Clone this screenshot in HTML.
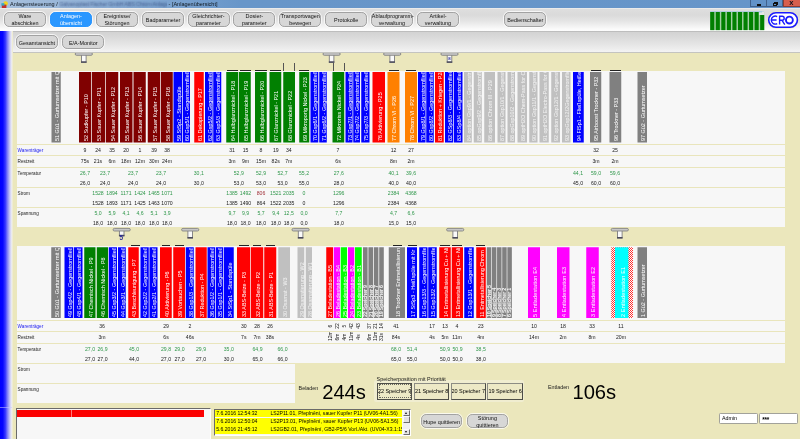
<!DOCTYPE html>
<html><head><meta charset="utf-8"><title>Anlagenuebersicht</title>
<style>
html,body{margin:0;padding:0}
body{width:800px;height:439px;overflow:hidden;position:relative;background:#ebe7bc;font-family:"Liberation Sans",sans-serif;font-size:5.2px;color:#000}
div{position:absolute;box-sizing:border-box}
.bar span{position:absolute;display:block;transform-origin:0 0;transform:rotate(-90deg);white-space:nowrap;overflow:hidden;font-size:5.45px;line-height:1.15;height:6.27px}
.hatch{background:conic-gradient(#ff3030 25%,#fff 0 50%,#ff3030 0 75%,#fff 0) 0 0/1.8px 1.8px}
.dash{height:1.2px;background:#222}
.tick{width:1px;height:7.5px;background:#555}
.tbar{width:17.2px;height:2.6px;background:#c2c2c2;border:0.8px solid #7e7e7e;border-radius:1.3px}
.tbar2{width:17.2px;height:1.3px;background:#9c9c9c;border-radius:0.6px}
.tnum{font-size:6.4px;line-height:6px;font-weight:bold;color:#2c2c98}
.tstem{width:4.7px;height:7.2px;background:#fbfbfb;border:1px solid #787878;border-bottom:1.4px solid #484858;border-top:none}
.v{width:30px;text-align:center;font-size:5.15px;line-height:7.2px;height:7.2px;color:#1a1a1a;white-space:nowrap}
.v.gr{color:#2f974a}
.v.rd{color:#a03038}
.rv{transform-origin:0 0;transform:rotate(-90deg);font-size:5px;line-height:4px;white-space:nowrap;width:8px;text-align:center;color:#1a1a1a}
.lab{left:17.6px;font-size:4.65px;line-height:6.6px;color:#1a1a1a;white-space:nowrap}
.lab.bl{color:#1818f0}
.rl{left:17px;width:768px;height:1.1px;background:#e9e5bc}
.btn{width:42px;height:14.6px;border:0.8px solid #a2a2a2;border-radius:5.2px;background:rgba(214,214,214,.985);font-size:5.45px;line-height:6.6px;text-align:center;padding-top:0;color:#111;box-shadow:0 0 0 0.9px rgba(255,255,255,.75);white-space:nowrap}
.btn.one{padding-top:3.4px}
.btn.sel{background:rgba(39,149,255,.985);border-color:#2795ff;color:#fff}
.big{font-size:20.2px;line-height:20px;color:#000;letter-spacing:-0.1px}
.sp{top:382.7px;width:35.2px;height:17.3px;border:1px solid;border-color:#8c8c84 #4e4e48 #4e4e48 #8c8c84;background:#ede9c6;font-size:5.5px;line-height:15.6px;text-align:center;white-space:nowrap;overflow:hidden;letter-spacing:-0.05px}
.yl{left:215.4px;width:187px;height:7.6px;background:#ffff00;font-size:5.12px;line-height:7.6px;white-space:nowrap;overflow:hidden}
.yl b{font-weight:normal;position:absolute;left:0.8px;top:0}
.yl i{font-style:normal;position:absolute;left:55px;top:0}
</style></head><body><div id="all" style="left:0;top:0;width:800px;height:439px;opacity:0.999;will-change:opacity">
<!-- panels -->
<div style="left:17px;top:71px;width:768px;height:155.6px;background:#f7f7f7"></div>
<div style="left:17px;top:246px;width:768px;height:117.4px;background:#f7f7f7"></div>
<div style="left:17px;top:363px;width:278px;height:40px;background:#f7f7f7"></div>
<svg style="position:absolute;left:0;top:0" width="800" height="439" viewBox="0 0 800 439"><rect x="51.50" y="72.00" width="9.25" height="70.50" fill="#808080"/><rect x="79.00" y="72.00" width="12.00" height="70.50" fill="#800000"/><rect x="91.75" y="72.00" width="13.25" height="70.50" fill="#800000"/><rect x="105.75" y="72.00" width="12.50" height="70.50" fill="#800000"/><rect x="120.00" y="72.00" width="12.50" height="70.50" fill="#800000"/><rect x="133.50" y="72.00" width="12.25" height="70.50" fill="#800000"/><rect x="147.75" y="72.00" width="12.25" height="70.50" fill="#800000"/><rect x="160.75" y="72.00" width="12.00" height="70.50" fill="#800000"/><rect x="173.50" y="72.00" width="8.75" height="70.50" fill="#0000ff"/><rect x="183.00" y="72.00" width="7.00" height="70.50" fill="#0000ff"/><rect x="194.25" y="72.00" width="9.50" height="70.50" fill="#ff0000"/><rect x="205.00" y="72.00" width="7.50" height="70.50" fill="#0000ff"/><rect x="213.25" y="72.00" width="8.00" height="70.50" fill="#0000ff"/><rect x="226.25" y="72.00" width="11.75" height="70.50" fill="#008000"/><rect x="238.75" y="72.00" width="12.00" height="70.50" fill="#008000"/><rect x="255.00" y="72.00" width="11.75" height="70.50" fill="#008000"/><rect x="269.50" y="72.00" width="11.75" height="70.50" fill="#008000"/><rect x="283.25" y="72.00" width="11.75" height="70.50" fill="#008000"/><rect x="299.25" y="72.00" width="10.00" height="70.50" fill="#008000"/><rect x="310.50" y="72.00" width="7.75" height="70.50" fill="#0000ff"/><rect x="319.25" y="72.00" width="7.50" height="70.50" fill="#0000ff"/><rect x="332.50" y="72.00" width="11.75" height="70.50" fill="#008000"/><rect x="345.50" y="72.00" width="7.00" height="70.50" fill="#0000ff"/><rect x="353.25" y="72.00" width="6.75" height="70.50" fill="#0000ff"/><rect x="361.25" y="72.00" width="8.25" height="70.50" fill="#0000ff"/><rect x="372.50" y="72.00" width="12.50" height="70.50" fill="#ff0000"/><rect x="387.50" y="72.00" width="12.00" height="70.50" fill="#ff8000"/><rect x="405.00" y="72.00" width="12.00" height="70.50" fill="#ff8000"/><rect x="418.00" y="72.00" width="7.50" height="70.50" fill="#0000ff"/><rect x="426.25" y="72.00" width="7.50" height="70.50" fill="#0000ff"/><rect x="435.00" y="72.00" width="8.75" height="70.50" fill="#ff0000"/><rect x="445.00" y="72.00" width="8.00" height="70.50" fill="#0000ff"/><rect x="453.75" y="72.00" width="8.75" height="70.50" fill="#0000ff"/><rect x="464.00" y="72.00" width="7.75" height="70.50" fill="#c0c0c0"/><rect x="473.75" y="72.00" width="8.00" height="70.50" fill="#c0c0c0"/><rect x="484.25" y="72.00" width="10.75" height="70.50" fill="#c0c0c0"/><rect x="497.50" y="72.00" width="8.00" height="70.50" fill="#c0c0c0"/><rect x="507.50" y="72.00" width="7.50" height="70.50" fill="#c0c0c0"/><rect x="517.50" y="72.00" width="9.50" height="70.50" fill="#c0c0c0"/><rect x="529.25" y="72.00" width="8.25" height="70.50" fill="#c0c0c0"/><rect x="539.50" y="72.00" width="9.25" height="70.50" fill="#c0c0c0"/><rect x="551.25" y="72.00" width="8.75" height="70.50" fill="#c0c0c0"/><rect x="562.00" y="72.00" width="8.50" height="70.50" fill="#c0c0c0"/><rect x="573.00" y="72.00" width="10.75" height="70.50" fill="#0000ff"/><rect x="590.00" y="72.00" width="11.25" height="70.50" fill="#808080"/><rect x="609.50" y="72.00" width="11.75" height="70.50" fill="#808080"/><rect x="637.50" y="72.00" width="9.50" height="70.50" fill="#808080"/><rect x="51.25" y="247.25" width="9.50" height="70.75" fill="#808080"/><rect x="64.50" y="247.25" width="8.50" height="70.75" fill="#0000ff"/><rect x="73.75" y="247.25" width="8.75" height="70.75" fill="#0000ff"/><rect x="84.25" y="247.25" width="11.25" height="70.75" fill="#008000"/><rect x="96.75" y="247.25" width="11.25" height="70.75" fill="#008000"/><rect x="108.75" y="247.25" width="8.25" height="70.75" fill="#0000ff"/><rect x="118.00" y="247.25" width="7.75" height="70.75" fill="#0000ff"/><rect x="128.25" y="247.25" width="10.50" height="70.75" fill="#ff0000"/><rect x="140.50" y="247.25" width="8.25" height="70.75" fill="#0000ff"/><rect x="149.50" y="247.25" width="8.00" height="70.75" fill="#0000ff"/><rect x="160.00" y="247.25" width="11.75" height="70.75" fill="#ff0000"/><rect x="173.25" y="247.25" width="11.75" height="70.75" fill="#ff0000"/><rect x="185.75" y="247.25" width="8.00" height="70.75" fill="#0000ff"/><rect x="195.50" y="247.25" width="11.25" height="70.75" fill="#ff0000"/><rect x="207.50" y="247.25" width="7.50" height="70.75" fill="#0000ff"/><rect x="215.75" y="247.25" width="7.25" height="70.75" fill="#0000ff"/><rect x="223.75" y="247.25" width="10.00" height="70.75" fill="#0000ff"/><rect x="237.00" y="247.25" width="13.00" height="70.75" fill="#ff0000"/><rect x="250.75" y="247.25" width="12.50" height="70.75" fill="#ff0000"/><rect x="264.25" y="247.25" width="12.00" height="70.75" fill="#ff0000"/><rect x="278.25" y="247.25" width="11.75" height="70.75" fill="#c0c0c0"/><rect x="297.50" y="247.25" width="6.75" height="70.75" fill="#c0c0c0"/><rect x="305.75" y="247.25" width="6.25" height="70.75" fill="#c0c0c0"/><rect x="326.25" y="247.25" width="6.75" height="70.75" fill="#ff0000"/><rect x="333.75" y="247.25" width="6.25" height="70.75" fill="#ff00ff"/><rect x="340.75" y="247.25" width="6.25" height="70.75" fill="#00ff00"/><rect x="348.00" y="247.25" width="6.25" height="70.75" fill="#ff00ff"/><rect x="355.00" y="247.25" width="6.75" height="70.75" fill="#00ff00"/><rect x="388.75" y="247.25" width="16.25" height="70.75" fill="#808080"/><rect x="407.00" y="247.25" width="10.00" height="70.75" fill="#0000ff"/><rect x="419.25" y="247.25" width="8.25" height="70.75" fill="#0000ff"/><rect x="428.25" y="247.25" width="8.50" height="70.75" fill="#0000ff"/><rect x="439.25" y="247.25" width="11.50" height="70.75" fill="#ff0000"/><rect x="451.75" y="247.25" width="11.25" height="70.75" fill="#ff0000"/><rect x="464.25" y="247.25" width="9.50" height="70.75" fill="#0000ff"/><rect x="476.25" y="247.25" width="9.50" height="70.75" fill="#ff0000"/><rect x="528.00" y="247.25" width="12.00" height="70.75" fill="#ff00ff"/><rect x="557.00" y="247.25" width="12.50" height="70.75" fill="#ff00ff"/><rect x="586.25" y="247.25" width="12.50" height="70.75" fill="#ff00ff"/><rect x="637.50" y="247.25" width="9.50" height="70.75" fill="#808080"/><rect x="363.00" y="247.25" width="4.6" height="70.75" fill="#808080"/><rect x="368.40" y="247.25" width="4.6" height="70.75" fill="#808080"/><rect x="373.80" y="247.25" width="4.6" height="70.75" fill="#808080"/><rect x="379.20" y="247.25" width="4.6" height="70.75" fill="#808080"/><rect x="486.75" y="247.25" width="4.5" height="70.75" fill="#808080"/><rect x="491.90" y="247.25" width="4.5" height="70.75" fill="#808080"/><rect x="497.05" y="247.25" width="4.5" height="70.75" fill="#808080"/><rect x="502.20" y="247.25" width="4.5" height="70.75" fill="#808080"/><rect x="507.35" y="247.25" width="4.5" height="70.75" fill="#808080"/><defs><pattern id="hp" width="2" height="2" patternUnits="userSpaceOnUse" x="611" y="247"><rect width="2" height="2" fill="#fff"/><rect width="1" height="1" fill="#ff3030"/><rect x="1" y="1" width="1" height="1" fill="#ff3030"/></pattern></defs><rect x="611.25" y="247.25" width="21.75" height="70.75" fill="url(#hp)"/><rect x="615.00" y="247.25" width="13.40" height="70.75" fill="#00ffff"/><rect x="81.50" y="54.3" width="4.6" height="8.00" fill="#fafafa" stroke="#7c7c80" stroke-width="0.9"/><rect x="81.05" y="61.30" width="5.5" height="1.5" fill="#4a4a5a"/><rect x="75.20" y="52.699999999999996" width="17.2" height="2.6" rx="1.3" fill="#c8c8c8" stroke="#808080" stroke-width="0.85"/><rect x="329.30" y="54.3" width="4.6" height="8.00" fill="#fafafa" stroke="#7c7c80" stroke-width="0.9"/><rect x="328.85" y="61.30" width="5.5" height="1.5" fill="#4a4a5a"/><rect x="323.00" y="52.699999999999996" width="17.2" height="2.6" rx="1.3" fill="#c8c8c8" stroke="#808080" stroke-width="0.85"/><rect x="389.90" y="54.3" width="4.6" height="8.00" fill="#fafafa" stroke="#7c7c80" stroke-width="0.9"/><rect x="389.45" y="61.30" width="5.5" height="1.5" fill="#4a4a5a"/><rect x="383.60" y="52.699999999999996" width="17.2" height="2.6" rx="1.3" fill="#c8c8c8" stroke="#808080" stroke-width="0.85"/><rect x="447.20" y="54.3" width="4.6" height="8.00" fill="#fafafa" stroke="#7c7c80" stroke-width="0.9"/><rect x="446.75" y="61.30" width="5.5" height="1.5" fill="#4a4a5a"/><rect x="440.90" y="52.699999999999996" width="17.2" height="2.6" rx="1.3" fill="#c8c8c8" stroke="#808080" stroke-width="0.85"/><rect x="119.40" y="230" width="4.6" height="5.80" fill="#fafafa" stroke="#7c7c80" stroke-width="0.9"/><rect x="118.95" y="234.80" width="5.5" height="1.5" fill="#4a4a5a"/><rect x="113.10" y="228.4" width="17.2" height="2.6" rx="1.3" fill="#c8c8c8" stroke="#808080" stroke-width="0.85"/><rect x="187.90" y="230" width="4.6" height="8.00" fill="#fafafa" stroke="#7c7c80" stroke-width="0.9"/><rect x="187.45" y="237.00" width="5.5" height="1.5" fill="#4a4a5a"/><rect x="181.60" y="228.4" width="17.2" height="2.6" rx="1.3" fill="#c8c8c8" stroke="#808080" stroke-width="0.85"/><rect x="298.30" y="230" width="4.6" height="8.00" fill="#fafafa" stroke="#7c7c80" stroke-width="0.9"/><rect x="297.85" y="237.00" width="5.5" height="1.5" fill="#4a4a5a"/><rect x="292.00" y="228.4" width="17.2" height="2.6" rx="1.3" fill="#c8c8c8" stroke="#808080" stroke-width="0.85"/><rect x="452.90" y="230" width="4.6" height="8.00" fill="#fafafa" stroke="#7c7c80" stroke-width="0.9"/><rect x="452.45" y="237.00" width="5.5" height="1.5" fill="#4a4a5a"/><rect x="446.60" y="228.4" width="17.2" height="2.6" rx="1.3" fill="#c8c8c8" stroke="#808080" stroke-width="0.85"/><rect x="617.50" y="230" width="4.6" height="8.00" fill="#fafafa" stroke="#7c7c80" stroke-width="0.9"/><rect x="617.05" y="237.00" width="5.5" height="1.5" fill="#4a4a5a"/><rect x="611.20" y="228.4" width="17.2" height="2.6" rx="1.3" fill="#c8c8c8" stroke="#808080" stroke-width="0.85"/></svg>
<!-- title bar -->
<svg style="position:absolute;left:0;top:0" width="800" height="53" viewBox="0 0 800 53"><defs><linearGradient id="g0" x1="0" x2="1" y1="0" y2="0"><stop offset="0" stop-color="#a9c1dd"/><stop offset=".12" stop-color="#8fb0d6"/><stop offset=".3" stop-color="#6896c9"/><stop offset="1" stop-color="#6695c9"/></linearGradient><linearGradient id="g1" x1="0" x2="0" y1="0" y2="1"><stop offset="0" stop-color="#f2f2f2"/><stop offset=".06" stop-color="#dedede"/><stop offset=".3" stop-color="#dadada"/><stop offset=".55" stop-color="#e4e4e4"/><stop offset=".8" stop-color="#f3f3f3"/><stop offset=".92" stop-color="#fbfbfb"/><stop offset="1" stop-color="#fcfcfc"/></linearGradient><linearGradient id="g2" x1="0" x2="0" y1="0" y2="1"><stop offset="0" stop-color="#d1d1d1"/><stop offset=".3" stop-color="#dadada"/><stop offset=".75" stop-color="#eaeaea"/><stop offset="1" stop-color="#f4f4f4"/></linearGradient></defs><rect x="0" y="0" width="800" height="8" fill="url(#g0)"/><rect x="0" y="8" width="800" height="23" fill="url(#g1)"/><rect x="0" y="31" width="800" height="21.4" fill="url(#g2)"/></svg>
<div style="left:10px;top:0.6px;font-size:5.5px;line-height:7px;white-space:nowrap;color:#101820">Anlagensteuerung / <span style="display:inline-block;width:107.8px;overflow:hidden;vertical-align:top;color:transparent;text-shadow:0 0 1.8px rgba(60,85,135,.7),0 0 2.6px rgba(60,85,135,.35);letter-spacing:-0.2px">Galvanoplast Fischer GmbH ABS Chrom Anlage</span> - [Anlagenübersicht]</div>
<svg style="position:absolute;left:0.5px;top:0.6px" width="8" height="7.5" viewBox="0 0 8 7.5"><circle cx="4.6" cy="2.6" r="2.3" fill="#f2d21c"/><rect x="0.8" y="3.6" width="4.6" height="3.4" fill="#c03030"/><rect x="0.4" y="2.2" width="3" height="2.4" fill="#30a8c8"/></svg>
<div style="left:750.2px;top:0;width:17.2px;height:7.4px;background:#6292c8;border:0.7px solid #41618c;border-top:none"></div>
<div style="left:767.4px;top:0;width:16px;height:7.4px;background:#6292c8;border:0.7px solid #41618c;border-top:none;border-left:none"></div>
<div style="left:783.4px;top:0;width:16.6px;height:7.4px;background:#d75f4e;border:0.6px solid #8a3c34;border-top:none;border-right:none"></div>
<div style="left:756.6px;top:4.3px;width:4.6px;height:1.4px;background:#101010"></div>
<div style="left:773.2px;top:2.6px;width:3.4px;height:3.2px;border:0.9px solid #101010"></div>
<div style="left:774.3px;top:1.7px;width:3.4px;height:3.2px;border:0.9px solid #101010;border-left:none;border-bottom:none"></div>
<div style="left:789.2px;top:-1.1px;font-size:7.6px;line-height:7px;font-weight:bold;color:#14101c">x</div>
<!-- toolbar 1 -->
<div class="btn " style="left:4px;top:12.3px">Ware<br>abschicken</div><div class="btn sel" style="left:50px;top:12.3px">Anlagen-<br>übersicht</div><div class="btn " style="left:96px;top:12.3px">Ereignisse/<br>Störungen</div><div class="btn one" style="left:142px;top:12.3px">Badparameter</div><div class="btn " style="left:187.5px;top:12.3px">Gleichrichter-<br>parameter</div><div class="btn " style="left:233.3px;top:12.3px">Dosier-<br>parameter</div><div class="btn " style="left:279.3px;top:12.3px">Transportwagen<br>bewegen</div><div class="btn one" style="left:325.2px;top:12.3px">Protokolle</div><div class="btn " style="left:370.8px;top:12.3px">Ablaufprogramm-<br>verwaltung</div><div class="btn " style="left:417px;top:12.3px">Artikel-<br>verwaltung</div><div class="btn one" style="left:504.3px;top:12.3px">Bedienschalter</div>
<svg style="position:absolute;left:0;top:0" width="800" height="32" viewBox="0 0 800 32"><rect x="710.2" y="11.8" width="54" height="18.3" fill="#a4d0a4"/><rect x="710.2" y="11.4" width="53.8" height="0.9" fill="#9cc4e4"/><rect x="758.6" y="11.6" width="5.6" height="3.4" fill="#e6e6e6"/><rect x="758.6" y="11.4" width="3.4" height="1" fill="#9cc4e4"/><rect x="710.20" y="12" width="4.1" height="18.1" fill="#008000"/><rect x="715.75" y="12" width="4.1" height="18.1" fill="#008000"/><rect x="721.30" y="12" width="4.1" height="18.1" fill="#008000"/><rect x="726.85" y="12" width="4.1" height="18.1" fill="#008000"/><rect x="732.40" y="12" width="4.1" height="18.1" fill="#008000"/><rect x="737.95" y="12" width="4.1" height="18.1" fill="#008000"/><rect x="743.50" y="12" width="4.1" height="18.1" fill="#008000"/><rect x="749.05" y="12" width="4.1" height="18.1" fill="#008000"/><rect x="754.60" y="12" width="4.1" height="18.1" fill="#008000"/><rect x="760.15" y="15" width="4.1" height="15.1" fill="#008000"/></svg>
<svg style="position:absolute;left:766px;top:10px" width="34" height="20" viewBox="766 10 34 20"><rect x="768.7" y="12.7" width="28.7" height="14.5" rx="7.25" fill="#fff" stroke="#f4f0b0" stroke-width="2.6"/><rect x="768.7" y="12.7" width="28.7" height="14.5" rx="7.25" fill="#fff" stroke="#1a1aff" stroke-width="1.6"/><g fill="none" stroke="#1a1aff" stroke-width="1.4" transform="translate(-0.8 0)"><path d="M778 16.6A4 4 0 1 0 778 23.6M772.6 20H777.4"/><path d="M780.4 24.6V16.2H783A1.9 1.9 0 0 1 783 20.2H780.4M782.8 20.4L785.6 24.6"/><circle cx="790.2" cy="20.1" r="3.45" stroke-width="1.9"/></g></svg>
<!-- toolbar 2 -->
<div style="left:0;top:30.8px;width:800px;height:0.8px;background:#bdbdbd"></div>
<div style="left:0;top:51.6px;width:800px;height:1px;background:#c4c4c0"></div>
<div class="btn one" style="left:16.2px;top:35.2px;width:41.6px;height:14.2px">Gesamtansicht</div>
<div class="btn one" style="left:62.3px;top:35.2px;width:42px;height:14.2px">E/A-Monitor</div>
<!-- left blue strip -->
<div style="left:0;top:31.4px;width:12.6px;height:408px;background:linear-gradient(90deg,#0000ff 0,#0606ff 22%,#3a3aff 42%,#8c8cf8 60%,#d0d0f6 78%,#f2f2ee 92%,#ebe7bc 100%)"></div>
<div style="left:0;top:406.8px;width:12px;height:0.9px;background:rgba(200,200,255,.55)"></div>
<div class="bar" style="left:51.50px;top:72.00px;width:9.25px;height:70.50px;"><span style="left:2.49px;top:69.00px;width:69.00px;color:#fff">51 Gü1 - Gurtumsetzer mit Q</span></div>
<div class="bar" style="left:79.00px;top:72.00px;width:12.00px;height:70.50px;"><span style="left:3.87px;top:69.00px;width:69.00px;color:#fff">52 Sudkupfer - P10</span></div>
<div class="bar" style="left:91.75px;top:72.00px;width:13.25px;height:70.50px;"><span style="left:4.49px;top:69.00px;width:69.00px;color:#fff">53 Sauer Kupfer - P11</span></div>
<div class="bar" style="left:105.75px;top:72.00px;width:12.50px;height:70.50px;"><span style="left:4.12px;top:69.00px;width:69.00px;color:#fff">54 Sauer Kupfer - P12</span></div>
<div class="bar" style="left:120.00px;top:72.00px;width:12.50px;height:70.50px;"><span style="left:4.12px;top:69.00px;width:69.00px;color:#fff">55 Sauer Kupfer - P13</span></div>
<div class="bar" style="left:133.50px;top:72.00px;width:12.25px;height:70.50px;"><span style="left:3.99px;top:69.00px;width:69.00px;color:#fff">56 Sauer Kupfer - P14</span></div>
<div class="bar" style="left:147.75px;top:72.00px;width:12.25px;height:70.50px;"><span style="left:3.99px;top:69.00px;width:69.00px;color:#fff">57 Sauer Kupfer - P15</span></div>
<div class="bar" style="left:160.75px;top:72.00px;width:12.00px;height:70.50px;"><span style="left:3.87px;top:69.00px;width:69.00px;color:#fff">58 Sauer Kupfer - P16</span></div>
<div class="bar" style="left:173.50px;top:72.00px;width:8.75px;height:70.50px;"><span style="left:2.24px;top:69.00px;width:69.00px;color:#fff">59 StSp2 - Standspüle</span></div>
<div class="bar" style="left:183.00px;top:72.00px;width:7.00px;height:70.50px;"><span style="left:1.37px;top:69.00px;width:69.00px;color:#fff">60 Gsp5/1 - Gegenstromfließspüle</span></div>
<div class="bar" style="left:194.25px;top:72.00px;width:9.50px;height:70.50px;"><span style="left:2.62px;top:69.00px;width:69.00px;color:#fff">61 Dekapierung - P17</span></div>
<div class="bar" style="left:205.00px;top:72.00px;width:7.50px;height:70.50px;"><span style="left:1.62px;top:69.00px;width:69.00px;color:#fff">62 Gsp5/2 - Gegenstromfließspüle</span></div>
<div class="bar" style="left:213.25px;top:72.00px;width:8.00px;height:70.50px;"><span style="left:1.87px;top:69.00px;width:69.00px;color:#fff">63 Gsp5/3 - Gegenstromfließspüle</span></div>
<div class="bar" style="left:226.25px;top:72.00px;width:11.75px;height:70.50px;"><span style="left:3.74px;top:69.00px;width:69.00px;color:#fff">64 Halbglanznickel - P18</span></div>
<div class="bar" style="left:238.75px;top:72.00px;width:12.00px;height:70.50px;"><span style="left:3.87px;top:69.00px;width:69.00px;color:#fff">65 Halbglanznickel - P19</span></div>
<div class="bar" style="left:255.00px;top:72.00px;width:11.75px;height:70.50px;"><span style="left:3.74px;top:69.00px;width:69.00px;color:#fff">66 Halbglanznickel - P20</span></div>
<div class="bar" style="left:269.50px;top:72.00px;width:11.75px;height:70.50px;"><span style="left:3.74px;top:69.00px;width:69.00px;color:#fff">67 Glanznickel - P21</span></div>
<div class="bar" style="left:283.25px;top:72.00px;width:11.75px;height:70.50px;"><span style="left:3.74px;top:69.00px;width:69.00px;color:#fff">68 Glanznickel - P22</span></div>
<div class="bar" style="left:299.25px;top:72.00px;width:10.00px;height:70.50px;"><span style="left:2.87px;top:69.00px;width:69.00px;color:#fff">69 Mikroporig Nickel - P23</span></div>
<div class="bar" style="left:310.50px;top:72.00px;width:7.75px;height:70.50px;"><span style="left:1.74px;top:69.00px;width:69.00px;color:#fff">70 Gsp6/1 - Gegenstromfließspüle</span></div>
<div class="bar" style="left:319.25px;top:72.00px;width:7.50px;height:70.50px;"><span style="left:1.62px;top:69.00px;width:69.00px;color:#fff">71 Gsp6/2 - Gegenstromfließspüle</span></div>
<div class="bar" style="left:332.50px;top:72.00px;width:11.75px;height:70.50px;"><span style="left:3.74px;top:69.00px;width:69.00px;color:#fff">72 Mikroriss Nickel - P24</span></div>
<div class="bar" style="left:345.50px;top:72.00px;width:7.00px;height:70.50px;"><span style="left:1.37px;top:69.00px;width:69.00px;color:#fff">73 Gsp7/1 - Gegenstromfließspüle</span></div>
<div class="bar" style="left:353.25px;top:72.00px;width:6.75px;height:70.50px;"><span style="left:1.24px;top:69.00px;width:69.00px;color:#fff">74 Gsp7/2 - Gegenstromfließspüle</span></div>
<div class="bar" style="left:361.25px;top:72.00px;width:8.25px;height:70.50px;"><span style="left:1.99px;top:69.00px;width:69.00px;color:#fff">75 Gsp7/3 - Gegenstromfließspüle</span></div>
<div class="bar" style="left:372.50px;top:72.00px;width:12.50px;height:70.50px;"><span style="left:4.12px;top:69.00px;width:69.00px;color:#fff">76 Aktivierung - P25</span></div>
<div class="bar" style="left:387.50px;top:72.00px;width:12.00px;height:70.50px;"><span style="left:3.87px;top:69.00px;width:69.00px;color:#fff">77 Chrom VI - P26</span></div>
<div class="bar" style="left:405.00px;top:72.00px;width:12.00px;height:70.50px;"><span style="left:3.87px;top:69.00px;width:69.00px;color:#fff">78 Chrom VI - P27</span></div>
<div class="bar" style="left:418.00px;top:72.00px;width:7.50px;height:70.50px;"><span style="left:1.62px;top:69.00px;width:69.00px;color:#fff">79 Gsp8/1 - Gegenstromfließspüle</span></div>
<div class="bar" style="left:426.25px;top:72.00px;width:7.50px;height:70.50px;"><span style="left:1.62px;top:69.00px;width:69.00px;color:#fff">80 Gsp8/2 - Gegenstromfließspüle</span></div>
<div class="bar" style="left:435.00px;top:72.00px;width:8.75px;height:70.50px;"><span style="left:2.24px;top:69.00px;width:69.00px;color:#fff">81 Reduktion + Kriegen - P28</span></div>
<div class="bar" style="left:445.00px;top:72.00px;width:8.00px;height:70.50px;"><span style="left:1.87px;top:69.00px;width:69.00px;color:#fff">82 GSp8/3 - Gegenstromfließspüle</span></div>
<div class="bar" style="left:453.75px;top:72.00px;width:8.75px;height:70.50px;"><span style="left:2.24px;top:69.00px;width:69.00px;color:#fff">83 GSp8/4 - Gegenstromfließspüle</span></div>
<div class="bar" style="left:464.00px;top:72.00px;width:7.75px;height:70.50px;"><span style="left:1.74px;top:69.00px;width:69.00px;color:#f4f4f4">84 option Gsp9/1 - Gegenstr</span></div>
<div class="bar" style="left:473.75px;top:72.00px;width:8.00px;height:70.50px;"><span style="left:1.87px;top:69.00px;width:69.00px;color:#f4f4f4">85 opGsp9/2 - Gegenstromflie</span></div>
<div class="bar" style="left:484.25px;top:72.00px;width:10.75px;height:70.50px;"><span style="left:3.24px;top:69.00px;width:69.00px;color:#f4f4f4">86 option Chrom III - P29</span></div>
<div class="bar" style="left:497.50px;top:72.00px;width:8.00px;height:70.50px;"><span style="left:1.87px;top:69.00px;width:69.00px;color:#f4f4f4">87 option Gsp10/1 - Gegenstr</span></div>
<div class="bar" style="left:507.50px;top:72.00px;width:7.50px;height:70.50px;"><span style="left:1.62px;top:69.00px;width:69.00px;color:#f4f4f4">88 opGsp10/2 - Gegenstrom</span></div>
<div class="bar" style="left:517.50px;top:72.00px;width:9.50px;height:70.50px;"><span style="left:2.62px;top:69.00px;width:69.00px;color:#f4f4f4">89 optH2O Chem-Pass for C</span></div>
<div class="bar" style="left:529.25px;top:72.00px;width:8.25px;height:70.50px;"><span style="left:1.99px;top:69.00px;width:69.00px;color:#f4f4f4">90 option Gsp11/1 - Gegenstr</span></div>
<div class="bar" style="left:539.50px;top:72.00px;width:9.25px;height:70.50px;"><span style="left:2.49px;top:69.00px;width:69.00px;color:#f4f4f4">91 optH2O Electro-Pass for C</span></div>
<div class="bar" style="left:551.25px;top:72.00px;width:8.75px;height:70.50px;"><span style="left:2.24px;top:69.00px;width:69.00px;color:#f4f4f4">92 option Gsp12/1 - Gegenstr</span></div>
<div class="bar" style="left:562.00px;top:72.00px;width:8.50px;height:70.50px;"><span style="left:2.12px;top:69.00px;width:69.00px;color:#f4f4f4">93 opGsp12/2Gegenstromflie</span></div>
<div class="bar" style="left:573.00px;top:72.00px;width:10.75px;height:70.50px;"><span style="left:3.24px;top:69.00px;width:69.00px;color:#fff">94 FlSp1 - Fließspüle, Heiße</span></div>
<div class="bar" style="left:590.00px;top:72.00px;width:11.25px;height:70.50px;"><span style="left:3.49px;top:69.00px;width:69.00px;color:#fff">95 Airboost Trockner - P32</span></div>
<div class="bar" style="left:609.50px;top:72.00px;width:11.75px;height:70.50px;"><span style="left:3.74px;top:69.00px;width:69.00px;color:#fff">96 Trockner - P33</span></div>
<div class="bar" style="left:637.50px;top:72.00px;width:9.50px;height:70.50px;"><span style="left:2.62px;top:69.00px;width:69.00px;color:#fff">97 Gü2 - Gurtumsetzer</span></div>
<div class="bar" style="left:51.25px;top:247.25px;width:9.50px;height:70.75px;"><span style="left:2.62px;top:69.25px;width:69.25px;color:#fff">50 Gü1 - Gurtumsetzer mit Q</span></div>
<div class="bar" style="left:64.50px;top:247.25px;width:8.50px;height:70.75px;"><span style="left:2.12px;top:69.25px;width:69.25px;color:#fff">49 Gsp4/2 - Gegenstromfließspüle</span></div>
<div class="bar" style="left:73.75px;top:247.25px;width:8.75px;height:70.75px;"><span style="left:2.24px;top:69.25px;width:69.25px;color:#fff">48 Gsp4/1 - Gegenstromfließspüle</span></div>
<div class="bar" style="left:84.25px;top:247.25px;width:11.25px;height:70.75px;"><span style="left:3.49px;top:69.25px;width:69.25px;color:#fff">47 Chemisch Nickel - P9</span></div>
<div class="bar" style="left:96.75px;top:247.25px;width:11.25px;height:70.75px;"><span style="left:3.49px;top:69.25px;width:69.25px;color:#fff">46 Chemisch Nickel - P8</span></div>
<div class="bar" style="left:108.75px;top:247.25px;width:8.25px;height:70.75px;"><span style="left:1.99px;top:69.25px;width:69.25px;color:#fff">45 Gsp3/2 - Gegenstromfließspüle</span></div>
<div class="bar" style="left:118.00px;top:247.25px;width:7.75px;height:70.75px;"><span style="left:1.74px;top:69.25px;width:69.25px;color:#fff">44 Gsp3/1 - Gegenstromfließspüle</span></div>
<div class="bar" style="left:128.25px;top:247.25px;width:10.50px;height:70.75px;"><span style="left:3.12px;top:69.25px;width:69.25px;color:#fff">43 Beschleunigung - P7</span></div>
<div class="bar" style="left:140.50px;top:247.25px;width:8.25px;height:70.75px;"><span style="left:1.99px;top:69.25px;width:69.25px;color:#fff">42 Gsp2/2 - Gegenstromfließspüle</span></div>
<div class="bar" style="left:149.50px;top:247.25px;width:8.00px;height:70.75px;"><span style="left:1.87px;top:69.25px;width:69.25px;color:#fff">41 Gsp2/1 - Gegenstromfließspüle</span></div>
<div class="bar" style="left:160.00px;top:247.25px;width:11.75px;height:70.75px;"><span style="left:3.74px;top:69.25px;width:69.25px;color:#fff">40 Aktivierung - P6</span></div>
<div class="bar" style="left:173.25px;top:247.25px;width:11.75px;height:70.75px;"><span style="left:3.74px;top:69.25px;width:69.25px;color:#fff">39 Vortauchen - P5</span></div>
<div class="bar" style="left:185.75px;top:247.25px;width:8.00px;height:70.75px;"><span style="left:1.87px;top:69.25px;width:69.25px;color:#fff">38 Gsp1/3 - Gegenstromfließspüle</span></div>
<div class="bar" style="left:195.50px;top:247.25px;width:11.25px;height:70.75px;"><span style="left:3.49px;top:69.25px;width:69.25px;color:#fff">37 Reduktion - P4</span></div>
<div class="bar" style="left:207.50px;top:247.25px;width:7.50px;height:70.75px;"><span style="left:1.62px;top:69.25px;width:69.25px;color:#fff">36 Gsp1/2 - Gegenstromfließspüle</span></div>
<div class="bar" style="left:215.75px;top:247.25px;width:7.25px;height:70.75px;"><span style="left:1.49px;top:69.25px;width:69.25px;color:#fff">35 Gsp1/1 - Gegenstromfließspüle</span></div>
<div class="bar" style="left:223.75px;top:247.25px;width:10.00px;height:70.75px;"><span style="left:2.87px;top:69.25px;width:69.25px;color:#fff">34 StSp1 - Standspüle</span></div>
<div class="bar" style="left:237.00px;top:247.25px;width:13.00px;height:70.75px;"><span style="left:4.37px;top:69.25px;width:69.25px;color:#fff">33 ABS-Beize - P3</span></div>
<div class="bar" style="left:250.75px;top:247.25px;width:12.50px;height:70.75px;"><span style="left:4.12px;top:69.25px;width:69.25px;color:#fff">32 ABS-Beize - P2</span></div>
<div class="bar" style="left:264.25px;top:247.25px;width:12.00px;height:70.75px;"><span style="left:3.87px;top:69.25px;width:69.25px;color:#fff">31 ABS-Beize - P1</span></div>
<div class="bar" style="left:278.25px;top:247.25px;width:11.75px;height:70.75px;"><span style="left:3.74px;top:69.25px;width:69.25px;color:#f4f4f4">30 Oxamat - W3</span></div>
<div class="bar" style="left:297.50px;top:247.25px;width:6.75px;height:70.75px;"><span style="left:1.24px;top:69.25px;width:69.25px;color:#f4f4f4">29 Oxamatierung - W2</span></div>
<div class="bar" style="left:305.75px;top:247.25px;width:6.25px;height:70.75px;"><span style="left:0.99px;top:69.25px;width:69.25px;color:#f4f4f4">28 Oxamatierung - W1</span></div>
<div class="bar" style="left:326.25px;top:247.25px;width:6.75px;height:70.75px;"><span style="left:1.24px;top:69.25px;width:69.25px;color:#fff">27 Beladestation - B5</span></div>
<div class="bar" style="left:333.75px;top:247.25px;width:6.25px;height:70.75px;"><span style="left:0.99px;top:69.25px;width:69.25px;color:#fff">26 Beladestation - B4</span></div>
<div class="bar" style="left:340.75px;top:247.25px;width:6.25px;height:70.75px;"><span style="left:0.99px;top:69.25px;width:69.25px;color:#fff">25 Beladestation - B3</span></div>
<div class="bar" style="left:348.00px;top:247.25px;width:6.25px;height:70.75px;"><span style="left:0.99px;top:69.25px;width:69.25px;color:#fff">24 Beladestation - B2</span></div>
<div class="bar" style="left:355.00px;top:247.25px;width:6.75px;height:70.75px;"><span style="left:1.24px;top:69.25px;width:69.25px;color:#fff">23 Beladestation - B1</span></div>
<div class="bar" style="left:388.75px;top:247.25px;width:16.25px;height:70.75px;"><span style="left:5.99px;top:69.25px;width:69.25px;color:#fff">18 Trockner Entmetallisierun</span></div>
<div class="bar" style="left:407.00px;top:247.25px;width:10.00px;height:70.75px;"><span style="left:2.87px;top:69.25px;width:69.25px;color:#fff">17 StSp3 - Heißspüle mit Kr</span></div>
<div class="bar" style="left:419.25px;top:247.25px;width:8.25px;height:70.75px;"><span style="left:1.99px;top:69.25px;width:69.25px;color:#fff">16 Gsp13/3 - Gegenstromfließspüle</span></div>
<div class="bar" style="left:428.25px;top:247.25px;width:8.50px;height:70.75px;"><span style="left:2.12px;top:69.25px;width:69.25px;color:#fff">15 Gsp13/2 - Gegenstromfließspüle</span></div>
<div class="bar" style="left:439.25px;top:247.25px;width:11.50px;height:70.75px;"><span style="left:3.62px;top:69.25px;width:69.25px;color:#fff">14 Entmetallisierung Cu + Ni</span></div>
<div class="bar" style="left:451.75px;top:247.25px;width:11.25px;height:70.75px;"><span style="left:3.49px;top:69.25px;width:69.25px;color:#fff">13 Entmetallisierung Cu + Ni</span></div>
<div class="bar" style="left:464.25px;top:247.25px;width:9.50px;height:70.75px;"><span style="left:2.62px;top:69.25px;width:69.25px;color:#fff">12 Gsp13/1 - Gegenstromfließspüle</span></div>
<div class="bar" style="left:476.25px;top:247.25px;width:9.50px;height:70.75px;"><span style="left:2.62px;top:69.25px;width:69.25px;color:#fff">11 Entmetallisierung Chrom</span></div>
<div class="bar" style="left:528.00px;top:247.25px;width:12.00px;height:70.75px;letter-spacing:0.16px"><span style="left:3.87px;top:69.25px;width:69.25px;color:#fff">5 Entladestation E4</span></div>
<div class="bar" style="left:557.00px;top:247.25px;width:12.50px;height:70.75px;letter-spacing:0.16px"><span style="left:4.12px;top:69.25px;width:69.25px;color:#fff">4 Entladestation E3</span></div>
<div class="bar" style="left:586.25px;top:247.25px;width:12.50px;height:70.75px;letter-spacing:0.16px"><span style="left:4.12px;top:69.25px;width:69.25px;color:#fff">3 Entladestation E2</span></div>
<div class="bar" style="left:637.50px;top:247.25px;width:9.50px;height:70.75px;"><span style="left:2.62px;top:69.25px;width:69.25px;color:#fff">1 Gü2 - Gurtumsetzer</span></div>
<div class="bar" style="left:363.00px;top:247.25px;width:4.6px;height:70.75px"><span style="left:-0.83px;top:69.25px;width:40px;color:#f4f4f4;font-weight:bold;letter-spacing:-0.25px">22 Speicher 9</span></div>
<div class="bar" style="left:368.40px;top:247.25px;width:4.6px;height:70.75px"><span style="left:-0.83px;top:69.25px;width:40px;color:#f4f4f4;font-weight:bold;letter-spacing:-0.25px">21 Speicher 8</span></div>
<div class="bar" style="left:373.80px;top:247.25px;width:4.6px;height:70.75px"><span style="left:-0.83px;top:69.25px;width:40px;color:#f4f4f4;font-weight:bold;letter-spacing:-0.25px">20 Speicher 7</span></div>
<div class="bar" style="left:379.20px;top:247.25px;width:4.6px;height:70.75px"><span style="left:-0.83px;top:69.25px;width:40px;color:#f4f4f4;font-weight:bold;letter-spacing:-0.25px">19 Speicher 6</span></div>
<div class="bar" style="left:486.75px;top:247.25px;width:4.5px;height:70.75px"><span style="left:-0.88px;top:69.25px;width:40px;color:#f4f4f4;font-weight:bold;letter-spacing:-0.25px">10 Speicher 5</span></div>
<div class="bar" style="left:491.90px;top:247.25px;width:4.5px;height:70.75px"><span style="left:-0.88px;top:69.25px;width:40px;color:#f4f4f4;font-weight:bold;letter-spacing:-0.25px">9 Speicher 4</span></div>
<div class="bar" style="left:497.05px;top:247.25px;width:4.5px;height:70.75px"><span style="left:-0.88px;top:69.25px;width:40px;color:#f4f4f4;font-weight:bold;letter-spacing:-0.25px">8 Speicher 3</span></div>
<div class="bar" style="left:502.20px;top:247.25px;width:4.5px;height:70.75px"><span style="left:-0.88px;top:69.25px;width:40px;color:#f4f4f4;font-weight:bold;letter-spacing:-0.25px">7 Speicher 2</span></div>
<div class="bar" style="left:507.35px;top:247.25px;width:4.5px;height:70.75px"><span style="left:-0.88px;top:69.25px;width:40px;color:#f4f4f4;font-weight:bold;letter-spacing:-0.25px">6 Speicher 1</span></div>
<div class="bar" style="left:615.00px;top:247.25px;width:13.40px;height:70.75px;letter-spacing:0.16px"><span style="left:4.57px;top:69.25px;width:69.25px;color:#fff">2 Entladestation E1</span></div>
<div class="dash" style="left:226.50px;top:70.2px;width:11.50px"></div>
<div class="dash" style="left:240.00px;top:70.2px;width:10.75px"></div>
<div class="dash" style="left:255.00px;top:70.2px;width:11.75px"></div>
<div class="dash" style="left:269.50px;top:70.2px;width:11.75px"></div>
<div class="dash" style="left:299.25px;top:70.2px;width:10.00px"></div>
<div class="dash" style="left:388.75px;top:70.2px;width:10.00px"></div>
<div class="dash" style="left:406.25px;top:70.2px;width:9.25px"></div>
<div class="dash" style="left:590.50px;top:70.2px;width:10.50px"></div>
<div class="dash" style="left:610.00px;top:70.2px;width:10.50px"></div>
<div class="dash" style="left:130.50px;top:244.6px;width:9.25px"></div>
<div class="dash" style="left:161.80px;top:244.6px;width:8.70px"></div>
<div class="dash" style="left:175.00px;top:244.6px;width:9.00px"></div>
<div class="dash" style="left:239.25px;top:244.6px;width:9.50px"></div>
<div class="dash" style="left:252.50px;top:244.6px;width:8.75px"></div>
<div class="dash" style="left:265.50px;top:244.6px;width:9.00px"></div>
<div class="dash" style="left:392.50px;top:244.6px;width:9.50px"></div>
<div class="dash" style="left:407.50px;top:244.6px;width:9.50px"></div>
<div class="dash" style="left:440.00px;top:244.6px;width:10.00px"></div>
<div class="dash" style="left:452.00px;top:244.6px;width:10.00px"></div>
<div class="dash" style="left:476.00px;top:244.6px;width:9.00px"></div>
<div class="tick" style="left:283px;top:63px"></div>
<div class="tick" style="left:293.6px;top:63px"></div>
<div class="tick" style="left:332.6px;top:63px"></div>
<div class="tick" style="left:343.6px;top:63px"></div>



<div class="tnum" style="left:448.20px;top:55.9px;font-size:4.4px">8</div>
<div class="tnum" style="left:119.50px;top:234.8px">5</div>




<div class="v " style="left:70.00px;top:146.80px">9</div>
<div class="v " style="left:83.00px;top:146.80px">24</div>
<div class="v " style="left:97.00px;top:146.80px">35</div>
<div class="v " style="left:111.00px;top:146.80px">20</div>
<div class="v " style="left:125.00px;top:146.80px">1</div>
<div class="v " style="left:139.00px;top:146.80px">39</div>
<div class="v " style="left:152.00px;top:146.80px">38</div>
<div class="v " style="left:217.00px;top:146.80px">31</div>
<div class="v " style="left:230.50px;top:146.80px">15</div>
<div class="v " style="left:246.00px;top:146.80px">8</div>
<div class="v " style="left:260.75px;top:146.80px">19</div>
<div class="v " style="left:273.75px;top:146.80px">34</div>
<div class="v " style="left:323.00px;top:146.80px">7</div>
<div class="v " style="left:378.50px;top:146.80px">12</div>
<div class="v " style="left:396.00px;top:146.80px">27</div>
<div class="v " style="left:581.00px;top:146.80px">32</div>
<div class="v " style="left:600.00px;top:146.80px">25</div>
<div class="v " style="left:70.00px;top:158.30px">75s</div>
<div class="v " style="left:83.00px;top:158.30px">21s</div>
<div class="v " style="left:97.00px;top:158.30px">6m</div>
<div class="v " style="left:111.00px;top:158.30px">18m</div>
<div class="v " style="left:125.00px;top:158.30px">12m</div>
<div class="v " style="left:139.00px;top:158.30px">30m</div>
<div class="v " style="left:152.00px;top:158.30px">24m</div>
<div class="v " style="left:217.00px;top:158.30px">3m</div>
<div class="v " style="left:230.50px;top:158.30px">9m</div>
<div class="v " style="left:246.00px;top:158.30px">15m</div>
<div class="v " style="left:260.75px;top:158.30px">82s</div>
<div class="v " style="left:273.75px;top:158.30px">7m</div>
<div class="v " style="left:323.00px;top:158.30px">6s</div>
<div class="v " style="left:378.50px;top:158.30px">8m</div>
<div class="v " style="left:396.00px;top:158.30px">2m</div>
<div class="v " style="left:581.00px;top:158.30px">3m</div>
<div class="v " style="left:600.00px;top:158.30px">2m</div>
<div class="v gr" style="left:70.00px;top:170.30px">26,7</div>
<div class="v gr" style="left:90.00px;top:170.30px">23,7</div>
<div class="v gr" style="left:118.00px;top:170.30px">23,7</div>
<div class="v gr" style="left:146.00px;top:170.30px">23,7</div>
<div class="v gr" style="left:183.75px;top:170.30px">30,1</div>
<div class="v gr" style="left:223.75px;top:170.30px">52,9</div>
<div class="v gr" style="left:246.00px;top:170.30px">52,9</div>
<div class="v gr" style="left:267.50px;top:170.30px">52,7</div>
<div class="v gr" style="left:289.00px;top:170.30px">55,2</div>
<div class="v gr" style="left:323.75px;top:170.30px">27,6</div>
<div class="v gr" style="left:378.50px;top:170.30px">40,1</div>
<div class="v gr" style="left:396.00px;top:170.30px">39,6</div>
<div class="v gr" style="left:563.00px;top:170.30px">44,1</div>
<div class="v gr" style="left:581.00px;top:170.30px">59,0</div>
<div class="v gr" style="left:600.00px;top:170.30px">59,6</div>
<div class="v " style="left:70.00px;top:179.90px">26,0</div>
<div class="v " style="left:90.00px;top:179.90px">24,0</div>
<div class="v " style="left:118.00px;top:179.90px">24,0</div>
<div class="v " style="left:146.00px;top:179.90px">24,0</div>
<div class="v " style="left:183.75px;top:179.90px">30,0</div>
<div class="v " style="left:223.75px;top:179.90px">53,0</div>
<div class="v " style="left:246.00px;top:179.90px">53,0</div>
<div class="v " style="left:267.50px;top:179.90px">53,0</div>
<div class="v " style="left:289.00px;top:179.90px">55,0</div>
<div class="v " style="left:323.75px;top:179.90px">28,0</div>
<div class="v " style="left:378.50px;top:179.90px">40,0</div>
<div class="v " style="left:396.00px;top:179.90px">40,0</div>
<div class="v " style="left:563.00px;top:179.90px">45,0</div>
<div class="v " style="left:581.00px;top:179.90px">60,0</div>
<div class="v " style="left:600.00px;top:179.90px">60,0</div>
<div class="v gr" style="left:83.00px;top:189.90px">1528</div>
<div class="v gr" style="left:97.00px;top:189.90px">1894</div>
<div class="v gr" style="left:111.00px;top:189.90px">1171</div>
<div class="v gr" style="left:125.00px;top:189.90px">1424</div>
<div class="v gr" style="left:139.00px;top:189.90px">1465</div>
<div class="v gr" style="left:152.00px;top:189.90px">1071</div>
<div class="v gr" style="left:217.00px;top:189.90px">1385</div>
<div class="v gr" style="left:230.50px;top:189.90px">1492</div>
<div class="v rd" style="left:246.00px;top:189.90px">806</div>
<div class="v gr" style="left:260.75px;top:189.90px">1521</div>
<div class="v gr" style="left:273.75px;top:189.90px">2035</div>
<div class="v gr" style="left:289.00px;top:189.90px">0</div>
<div class="v gr" style="left:323.75px;top:189.90px">1296</div>
<div class="v gr" style="left:378.50px;top:189.90px">2384</div>
<div class="v gr" style="left:396.00px;top:189.90px">4368</div>
<div class="v " style="left:83.00px;top:199.90px">1528</div>
<div class="v " style="left:97.00px;top:199.90px">1893</div>
<div class="v " style="left:111.00px;top:199.90px">1171</div>
<div class="v " style="left:125.00px;top:199.90px">1425</div>
<div class="v " style="left:139.00px;top:199.90px">1463</div>
<div class="v " style="left:152.00px;top:199.90px">1070</div>
<div class="v " style="left:217.00px;top:199.90px">1385</div>
<div class="v " style="left:230.50px;top:199.90px">1490</div>
<div class="v " style="left:246.00px;top:199.90px">864</div>
<div class="v " style="left:260.75px;top:199.90px">1522</div>
<div class="v " style="left:273.75px;top:199.90px">2035</div>
<div class="v " style="left:289.00px;top:199.90px">0</div>
<div class="v " style="left:323.75px;top:199.90px">1296</div>
<div class="v " style="left:378.50px;top:199.90px">2384</div>
<div class="v " style="left:396.00px;top:199.90px">4368</div>
<div class="v gr" style="left:83.00px;top:209.90px">5,0</div>
<div class="v gr" style="left:97.00px;top:209.90px">5,9</div>
<div class="v gr" style="left:111.00px;top:209.90px">4,1</div>
<div class="v gr" style="left:125.00px;top:209.90px">4,6</div>
<div class="v gr" style="left:139.00px;top:209.90px">5,1</div>
<div class="v gr" style="left:152.00px;top:209.90px">3,9</div>
<div class="v gr" style="left:217.00px;top:209.90px">9,7</div>
<div class="v gr" style="left:230.50px;top:209.90px">9,9</div>
<div class="v gr" style="left:246.00px;top:209.90px">5,7</div>
<div class="v gr" style="left:260.75px;top:209.90px">9,4</div>
<div class="v gr" style="left:273.75px;top:209.90px">12,5</div>
<div class="v gr" style="left:289.00px;top:209.90px">0,0</div>
<div class="v gr" style="left:323.75px;top:209.90px">7,7</div>
<div class="v gr" style="left:378.50px;top:209.90px">4,7</div>
<div class="v gr" style="left:396.00px;top:209.90px">6,6</div>
<div class="v " style="left:83.00px;top:219.80px">18,0</div>
<div class="v " style="left:97.00px;top:219.80px">18,0</div>
<div class="v " style="left:111.00px;top:219.80px">18,0</div>
<div class="v " style="left:125.00px;top:219.80px">18,0</div>
<div class="v " style="left:139.00px;top:219.80px">18,0</div>
<div class="v " style="left:152.00px;top:219.80px">18,0</div>
<div class="v " style="left:217.00px;top:219.80px">18,0</div>
<div class="v " style="left:230.50px;top:219.80px">18,0</div>
<div class="v " style="left:246.00px;top:219.80px">18,0</div>
<div class="v " style="left:260.75px;top:219.80px">18,0</div>
<div class="v " style="left:273.75px;top:219.80px">18,0</div>
<div class="v " style="left:289.00px;top:219.80px">0,0</div>
<div class="v " style="left:323.75px;top:219.80px">18,0</div>
<div class="v " style="left:378.50px;top:219.80px">15,0</div>
<div class="v " style="left:396.00px;top:219.80px">15,0</div>
<div class="v " style="left:87.00px;top:322.70px">36</div>
<div class="v " style="left:151.00px;top:322.70px">29</div>
<div class="v " style="left:175.00px;top:322.70px">2</div>
<div class="v " style="left:228.75px;top:322.70px">30</div>
<div class="v " style="left:242.00px;top:322.70px">28</div>
<div class="v " style="left:255.00px;top:322.70px">26</div>
<div class="v " style="left:381.00px;top:322.70px">41</div>
<div class="v " style="left:417.00px;top:322.70px">17</div>
<div class="v " style="left:430.00px;top:322.70px">13</div>
<div class="v " style="left:442.00px;top:322.70px">4</div>
<div class="v " style="left:465.75px;top:322.70px">23</div>
<div class="v " style="left:519.00px;top:322.70px">10</div>
<div class="v " style="left:548.00px;top:322.70px">18</div>
<div class="v " style="left:577.00px;top:322.70px">33</div>
<div class="v " style="left:606.00px;top:322.70px">11</div>
<div class="v " style="left:87.00px;top:334.40px">3m</div>
<div class="v " style="left:151.00px;top:334.40px">6s</div>
<div class="v " style="left:175.00px;top:334.40px">46s</div>
<div class="v " style="left:228.75px;top:334.40px">7s</div>
<div class="v " style="left:242.00px;top:334.40px">7m</div>
<div class="v " style="left:255.00px;top:334.40px">38s</div>
<div class="v " style="left:381.00px;top:334.40px">84s</div>
<div class="v " style="left:417.00px;top:334.40px">4s</div>
<div class="v " style="left:430.00px;top:334.40px">5m</div>
<div class="v " style="left:442.00px;top:334.40px">11m</div>
<div class="v " style="left:465.75px;top:334.40px">4m</div>
<div class="v " style="left:519.00px;top:334.40px">14m</div>
<div class="v " style="left:548.00px;top:334.40px">2m</div>
<div class="v " style="left:577.00px;top:334.40px">8m</div>
<div class="v " style="left:606.00px;top:334.40px">20m</div>
<div class="v gr" style="left:75.00px;top:346.30px">27,0</div>
<div class="v gr" style="left:87.50px;top:346.30px">26,9</div>
<div class="v gr" style="left:119.00px;top:346.30px">45,0</div>
<div class="v gr" style="left:151.00px;top:346.30px">29,8</div>
<div class="v gr" style="left:164.50px;top:346.30px">29,0</div>
<div class="v gr" style="left:186.00px;top:346.30px">29,9</div>
<div class="v gr" style="left:213.75px;top:346.30px">35,0</div>
<div class="v gr" style="left:242.50px;top:346.30px">64,9</div>
<div class="v gr" style="left:267.50px;top:346.30px">66,0</div>
<div class="v gr" style="left:381.00px;top:346.30px">68,0</div>
<div class="v gr" style="left:397.00px;top:346.30px">51,4</div>
<div class="v gr" style="left:430.00px;top:346.30px">50,9</div>
<div class="v gr" style="left:442.50px;top:346.30px">50,9</div>
<div class="v gr" style="left:465.75px;top:346.30px">38,5</div>
<div class="v " style="left:75.00px;top:356.30px">27,0</div>
<div class="v " style="left:87.50px;top:356.30px">27,0</div>
<div class="v " style="left:119.00px;top:356.30px">44,0</div>
<div class="v " style="left:151.00px;top:356.30px">27,0</div>
<div class="v " style="left:164.50px;top:356.30px">27,0</div>
<div class="v " style="left:186.00px;top:356.30px">27,0</div>
<div class="v " style="left:213.75px;top:356.30px">30,0</div>
<div class="v " style="left:242.50px;top:356.30px">65,0</div>
<div class="v " style="left:267.50px;top:356.30px">66,0</div>
<div class="v " style="left:381.00px;top:356.30px">65,0</div>
<div class="v " style="left:397.00px;top:356.30px">55,0</div>
<div class="v " style="left:430.00px;top:356.30px">50,0</div>
<div class="v " style="left:442.50px;top:356.30px">50,0</div>
<div class="v " style="left:465.75px;top:356.30px">38,0</div>
<div class="rv" style="left:327.60px;top:329.80px">6</div>
<div class="rv" style="left:334.90px;top:329.80px">22</div>
<div class="rv" style="left:341.90px;top:329.80px">5</div>
<div class="rv" style="left:349.10px;top:329.80px">42</div>
<div class="rv" style="left:356.30px;top:329.80px">43</div>
<div class="rv" style="left:367.20px;top:329.80px">37</div>
<div class="rv" style="left:373.00px;top:329.80px">21</div>
<div class="rv" style="left:378.80px;top:329.80px">14</div>
<div class="rv" style="left:327.60px;top:341.40px">12m</div>
<div class="rv" style="left:334.90px;top:341.40px">6m</div>
<div class="rv" style="left:341.90px;top:341.40px">4m</div>
<div class="rv" style="left:349.10px;top:341.40px">11m</div>
<div class="rv" style="left:356.30px;top:341.40px">4s</div>
<div class="rv" style="left:367.20px;top:341.40px">6m</div>
<div class="rv" style="left:373.00px;top:341.40px">11m</div>
<div class="rv" style="left:378.80px;top:341.40px">31s</div>
<div class="lab bl" style="top:147.70px">Warenträger</div>
<div class="lab " style="top:159.00px">Restzeit</div>
<div class="lab " style="top:170.60px">Temperatur</div>
<div class="lab " style="top:190.60px">Strom</div>
<div class="lab " style="top:210.60px">Spannung</div>
<div class="lab bl" style="top:323.90px">Warenträger</div>
<div class="lab " style="top:335.20px">Restzeit</div>
<div class="lab " style="top:346.80px">Temperatur</div>
<div class="lab " style="top:366.80px">Strom</div>
<div class="lab " style="top:386.80px">Spannung</div>
<div class="rl" style="top:144.0px"></div>
<div class="rl" style="top:155.3px"></div>
<div class="rl" style="top:167.0px"></div>
<div class="rl" style="top:187.0px"></div>
<div class="rl" style="top:207.0px"></div>
<div class="rl" style="top:320.0px;"></div>
<div class="rl" style="top:331.3px;"></div>
<div class="rl" style="top:343.0px;"></div>
<div class="rl" style="top:363.0px;width:278px"></div>
<div class="rl" style="top:383.0px;width:278px"></div>
<!-- beladen/entladen -->
<div class="lab" style="left:298.6px;top:384.6px;font-size:5.35px">Beladen</div>
<div class="big" style="left:322.3px;top:381.6px">244s</div>
<div style="left:373.6px;top:379.6px;width:150.6px;height:22.6px;background:#f0edd0;border-radius:2px"></div>
<div class="lab" style="left:376.6px;top:376px;font-size:5.45px">Speicherposition mit Priorität</div>
<div class="sp" style="left:377px;border-color:#4e4e48">22 Speicher 9</div><div style="left:378.6px;top:384.3px;width:32px;height:14.1px;border:0.6px dotted #6a6a60"></div>
<div class="sp" style="left:413.9px">21 Speicher 8</div>
<div class="sp" style="left:450.6px">20 Speicher 7</div>
<div class="sp" style="left:487.4px">19 Speicher 6</div>
<div class="lab" style="left:548px;top:384.2px;font-size:5.35px">Entladen</div>
<div class="big" style="left:572.6px;top:381.6px">106s</div>
<!-- bottom -->
<div style="left:16.2px;top:408px;width:195px;height:32px;background:#f7f7f7;border:1px solid #6a6a6a;border-right-color:#fff;border-bottom:none"></div>
<div style="left:17.4px;top:410px;width:186.6px;height:7.2px;background:#fb0000"></div>
<div style="left:71.2px;top:410px;width:0.7px;height:7.2px;background:#ff7a7a"></div>
<div style="left:214.2px;top:408.6px;width:197px;height:27.4px;background:#f7f7f7;border:1px solid #6a6a6a;border-right-color:#fff;border-bottom-color:#fff"></div>
<div class="yl" style="top:409.8px"><b>7.6.2016 12:54:32</b><i>LS2P11.01, Přeplnění, sauer Kupfer P11 (UV06-4A1.56)</i></div>
<div class="yl" style="top:418px"><b>7.6.2016 12:50:04</b><i>LS2P13.01, Přeplnění, sauer Kupfer P13 (UV06-5A1.56)</i></div>
<div class="yl" style="top:426.2px"><b>5.6.2016 21:45:12</b><i>LS2GB2.01, Přeplnění, GB2-P5/6 Vorl./Akt. (UV04-X3.1:15)</i></div>
<div style="left:403px;top:409.6px;width:7.2px;height:25.6px;background:#f0f0f0"></div>
<div style="left:403px;top:409.8px;width:7px;height:6.4px;background:#e6e6e6;border:0.8px solid;border-color:#fafafa #6e6e6e #6e6e6e #fafafa"></div>
<div style="left:403px;top:428.6px;width:7px;height:6.4px;background:#e6e6e6;border:0.8px solid;border-color:#fafafa #6e6e6e #6e6e6e #fafafa"></div>
<div style="left:403px;top:416.4px;width:7px;height:6.2px;background:#e2e2e2;border:0.8px solid;border-color:#fafafa #6e6e6e #6e6e6e #fafafa"></div>
<div style="left:405.1px;top:411.9px;width:0;height:0;border-left:1.5px solid transparent;border-right:1.5px solid transparent;border-bottom:2.2px solid #111"></div>
<div style="left:405.1px;top:430.8px;width:0;height:0;border-left:1.5px solid transparent;border-right:1.5px solid transparent;border-top:2.2px solid #111"></div>
<div class="btn one" style="left:421px;top:414.4px;width:41.4px;height:14px">Hupe quittieren</div>
<div class="btn" style="left:466.6px;top:414.4px;width:41.6px;height:14px">Störung<br>quittieren</div>
<div style="left:719.4px;top:413.3px;width:38.4px;height:10.4px;background:#fff;border:0.9px solid #a2a29a;border-radius:1.2px;font-size:5.3px;line-height:8.6px;padding-left:1.6px">Admin</div>
<div style="left:759.4px;top:413.3px;width:38.4px;height:10.4px;background:#fff;border:0.9px solid #a2a29a;border-radius:1.2px;font-size:6.4px;line-height:11px;padding-left:1.8px;font-weight:bold;letter-spacing:-0.2px">***</div>
</div></body></html>
